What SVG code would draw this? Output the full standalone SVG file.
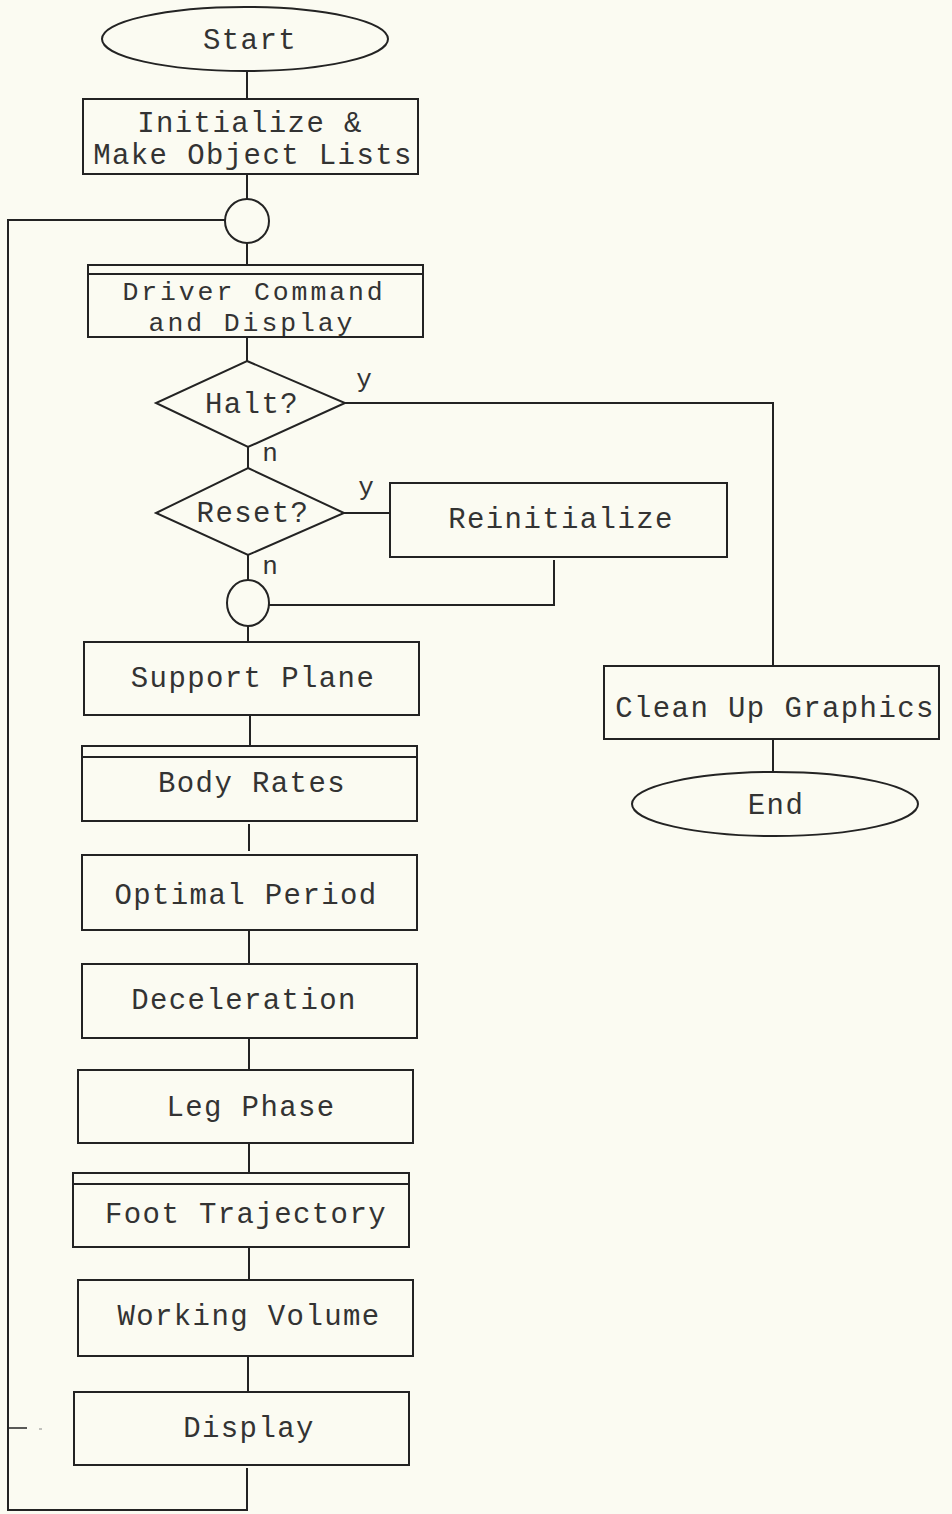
<svg xmlns="http://www.w3.org/2000/svg" width="952" height="1514" viewBox="0 0 952 1514">
  <style>
    .shape { fill: none; stroke: #232323; stroke-width: 2; }
    .wire { fill: none; stroke: #232323; stroke-width: 2; }
    .lbl { font-family: "Liberation Mono", "DejaVu Sans Mono", monospace; font-size: 29px; letter-spacing: 1.4px; fill: #333333; text-anchor: middle; }
    .lbl-tight { font-size: 26.5px; letter-spacing: 2.9px; }
    .tag { font-family: "Liberation Mono", "DejaVu Sans Mono", monospace; font-size: 26px; fill: #333333; text-anchor: middle; }
  </style>
  <rect x="0" y="0" width="952" height="1514" fill="#fbfbf2"/>

  <!-- connectors -->
  <g id="connectors">
    <line class="wire" x1="247" y1="71" x2="247" y2="99"/>
    <line class="wire" x1="247" y1="174" x2="247" y2="199"/>
    <line class="wire" x1="247" y1="243" x2="247" y2="265"/>
    <line class="wire" x1="247" y1="337" x2="247" y2="361"/>
    <polyline class="wire" points="345,403 773,403 773,666"/>
    <line class="wire" x1="248" y1="447" x2="248" y2="468"/>
    <line class="wire" x1="344" y1="513" x2="390" y2="513"/>
    <line class="wire" x1="248" y1="555" x2="248" y2="580"/>
    <polyline class="wire" points="554,560 554,605 268,605"/>
    <line class="wire" x1="248" y1="626" x2="248" y2="642"/>
    <line class="wire" x1="250" y1="715" x2="250" y2="746"/>
    <line class="wire" x1="249" y1="824" x2="249" y2="851"/>
    <line class="wire" x1="249" y1="930" x2="249" y2="964"/>
    <line class="wire" x1="249" y1="1038" x2="249" y2="1070"/>
    <line class="wire" x1="249" y1="1143" x2="249" y2="1173"/>
    <line class="wire" x1="249" y1="1247" x2="249" y2="1280"/>
    <line class="wire" x1="248" y1="1356" x2="248" y2="1392"/>
    <polyline class="wire" points="247,1468 247,1510 8,1510 8,220 225,220"/>
    <line class="wire" x1="773" y1="739" x2="773" y2="772"/>
    <line x1="9" y1="1428" x2="27" y2="1428" stroke="#232323" stroke-width="1.5"/>
    <line x1="39" y1="1429" x2="42" y2="1429" stroke="#888" stroke-width="1"/>
    <text class="tag" x="364" y="387">y</text>
    <text class="tag" x="270" y="461">n</text>
    <text class="tag" x="366" y="495">y</text>
    <text class="tag" x="270" y="574">n</text>
  </g>

  <g id="start">
    <ellipse class="shape" cx="245" cy="39" rx="143" ry="32"/>
    <text class="lbl" x="250" y="49">Start</text>
  </g>

  <g id="initialize">
    <rect class="shape" x="83" y="99" width="335" height="75"/>
    <text class="lbl" x="250" y="132">Initialize &amp;</text>
    <text class="lbl" x="253" y="164">Make Object Lists</text>
  </g>

  <g id="join-top">
    <circle class="shape" cx="247" cy="221" r="22"/>
  </g>

  <g id="driver-command">
    <rect class="shape" x="88" y="265" width="335" height="72"/>
    <line class="shape" x1="88" y1="274" x2="423" y2="274"/>
    <text class="lbl lbl-tight" x="254" y="300">Driver Command</text>
    <text class="lbl lbl-tight" x="252" y="331">and Display</text>
  </g>

  <g id="halt">
    <polygon class="shape" points="247,361 345,403 248,447 156,403"/>
    <text class="lbl" x="252" y="413">Halt?</text>
  </g>

  <g id="reset">
    <polygon class="shape" points="248,468 344,513 248,555 156,513"/>
    <text class="lbl" x="253" y="522">Reset?</text>
  </g>

  <g id="reinitialize">
    <rect class="shape" x="390" y="483" width="337" height="74"/>
    <text class="lbl" x="561" y="528">Reinitialize</text>
  </g>

  <g id="join-bottom">
    <ellipse class="shape" cx="248" cy="603" rx="21" ry="23"/>
  </g>

  <g id="support-plane">
    <rect class="shape" x="84" y="642" width="335" height="73"/>
    <text class="lbl" x="253" y="687">Support Plane</text>
  </g>

  <g id="body-rates">
    <rect class="shape" x="82" y="746" width="335" height="75"/>
    <line class="shape" x1="82" y1="757" x2="417" y2="757"/>
    <text class="lbl" x="252" y="792">Body Rates</text>
  </g>

  <g id="optimal-period">
    <rect class="shape" x="82" y="855" width="335" height="75"/>
    <text class="lbl" x="246" y="904">Optimal Period</text>
  </g>

  <g id="deceleration">
    <rect class="shape" x="82" y="964" width="335" height="74"/>
    <text class="lbl" x="244" y="1009">Deceleration</text>
  </g>

  <g id="leg-phase">
    <rect class="shape" x="78" y="1070" width="335" height="73"/>
    <text class="lbl" x="251" y="1116">Leg Phase</text>
  </g>

  <g id="foot-trajectory">
    <rect class="shape" x="73" y="1173" width="336" height="74"/>
    <line class="shape" x1="73" y1="1184" x2="409" y2="1184"/>
    <text class="lbl" x="246" y="1223">Foot Trajectory</text>
  </g>

  <g id="working-volume">
    <rect class="shape" x="78" y="1280" width="335" height="76"/>
    <text class="lbl" x="249" y="1325">Working Volume</text>
  </g>

  <g id="display">
    <rect class="shape" x="74" y="1392" width="335" height="73"/>
    <text class="lbl" x="249" y="1437">Display</text>
  </g>

  <g id="clean-up">
    <rect class="shape" x="604" y="666" width="335" height="73"/>
    <text class="lbl" x="775" y="717">Clean Up Graphics</text>
  </g>

  <g id="end">
    <ellipse class="shape" cx="775" cy="804" rx="143" ry="32"/>
    <text class="lbl" x="776" y="814">End</text>
  </g>
</svg>
